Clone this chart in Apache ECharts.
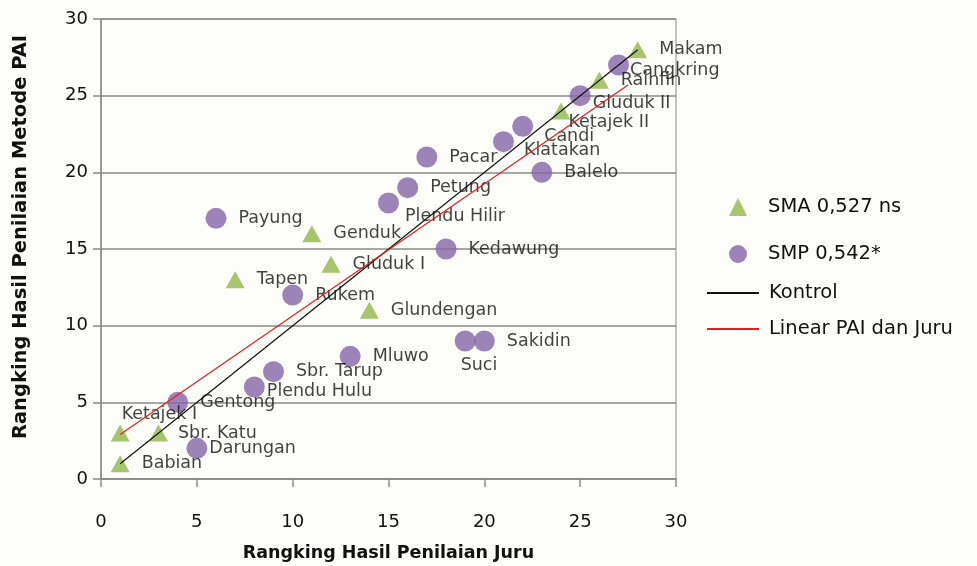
<!DOCTYPE html>
<html>
<head>
<meta charset="utf-8">
<script src="https://cdn.jsdelivr.net/npm/echarts@6/dist/echarts.min.js"></script>
<style>
  html, body { margin: 0; padding: 0; background: #fdfdf9; }
  #chart { width: 977px; height: 566px; }
</style>
</head>
<body>
<div id="chart"></div>
<script>
// SMA (triangles): [juru, PAI]
const smaNames = ['Makam', 'Rainfin', 'Ketajek II', 'Genduk', 'Gluduk I', 'Tapen', 'Glundengan', 'Ketajek I', 'Sbr. Katu', 'Babian'];
const smaJuru = [28, 26, 24, 11, 12, 7, 14, 1, 3, 1];
const smaPai = [28, 26, 24, 16, 14, 13, 11, 3, 3, 1];

// SMP (circles)
const smpNames = ['Cangkring', 'Gluduk II', 'Candi', 'Klatakan', 'Pacar', 'Balelo', 'Petung', 'Plendu Hilir', 'Payung', 'Kedawung',
  'Rukem', 'Mluwo', 'Suci', 'Sakidin', 'Sbr. Tarup', 'Plendu Hulu', 'Gentong', 'Darungan'];
const smpJuru = [27, 25, 22, 21, 17, 23, 16, 15, 6, 18, 10, 13, 19, 20, 9, 8, 4, 5];
const smpPai = [27, 25, 23, 22, 21, 20, 19, 18, 17, 15, 12, 8, 9, 9, 7, 6, 5, 2];

// lines
const kontrolX = [1, 28];
const kontrolY = [1, 28];
const linearX = [1, 27.5];
const linearY = [2.9, 25.7];

// label nudges (px) where Excel moved the label off the default spot
const nudge = {
  'Cangkring': [-11, 5], 'Gluduk II': [-10, 8], 'Ketajek II': [-14, 11], 'Candi': [-1, 10],
  'Klatakan': [-2, 9], 'Plendu Hilir': [-6, 13], 'Suci': [-27, 24], 'Plendu Hulu': [-10, 4],
  'Ketajek I': [-20, -19], 'Sbr. Katu': [-2, 0], 'Darungan': [-10, 0]
};

const font = 'DejaVu Sans';
const ink = '#111';

function points(names, xs, ys) {
  return names.map((n, i) => ({
    name: n,
    value: [xs[i], ys[i]],
    label: { offset: nudge[n] || [0, 0] }
  }));
}

const pointLabel = {
  show: true,
  position: 'right',
  distance: 12,
  formatter: p => p.name,
  fontFamily: font,
  fontSize: 17.5,
  color: ink
};

let chart = echarts.init(document.getElementById('chart'));
chart.setOption({
  backgroundColor: '#fdfdf9',
  animation: false,
  textStyle: { fontFamily: font },
  grid: {
    left: 101, right: 301, top: 19, bottom: 87,
    outerBoundsMode: 'none', containLabel: false,
    show: true, borderColor: '#8a8a8a', borderWidth: 1
  },
  xAxis: {
    type: 'value', min: 0, max: 30, interval: 5,
    name: 'Rangking Hasil Penilaian Juru',
    nameLocation: 'middle', nameGap: 65,
    nameTextStyle: { fontFamily: font, fontSize: 17.5, fontWeight: 'bold', color: ink },
    axisLine: { lineStyle: { color: '#8a8a8a', width: 1.5 } },
    axisTick: { show: true, length: 8, lineStyle: { color: '#8a8a8a', width: 1.5 } },
    axisLabel: { fontSize: 18, color: ink, margin: 34 },
    splitLine: { show: false }
  },
  yAxis: {
    type: 'value', min: 0, max: 30, interval: 5,
    name: 'Rangking Hasil Penilaian Metode PAI',
    nameLocation: 'middle', nameGap: 70,
    nameTextStyle: { fontFamily: font, fontSize: 19.5, fontWeight: 'bold', color: ink, padding: [0, 0, 0, 24] },
    axisLine: { show: true, lineStyle: { color: '#8a8a8a', width: 1.5 } },
    axisTick: { show: true, length: 8, lineStyle: { color: '#8a8a8a', width: 1.5 } },
    axisLabel: { fontSize: 18, color: ink, margin: 13 },
    splitLine: { show: true, lineStyle: { color: '#8a8a8a', width: 1.5 } }
  },
  legend: [
    {
      orient: 'vertical', left: 724, top: 192,
      itemWidth: 18, itemHeight: 18, itemGap: 27,
      textStyle: { fontSize: 19.5, color: ink, lineHeight: 18, padding: [0, 0, 0, 16] },
      data: ['SMA 0,527 ns', 'SMP 0,542*']
    },
    {
      orient: 'vertical', left: 702, top: 278,
      itemWidth: 52, itemHeight: 2, itemGap: 16,
      textStyle: { fontSize: 19.5, color: ink, lineHeight: 18, padding: [0, 0, 0, 5] },
      data: [{ name: 'Kontrol', icon: 'rect' }, { name: 'Linear PAI dan Juru', icon: 'rect' }]
    }
  ],
  series: [
    {
      name: 'Kontrol', type: 'line', symbol: 'none', z: 3,
      data: kontrolX.map((x, i) => [x, kontrolY[i]]),
      lineStyle: { color: '#111', width: 1.2 }, itemStyle: { color: '#111' }
    },
    {
      name: 'Linear PAI dan Juru', type: 'line', symbol: 'none', z: 3,
      data: linearX.map((x, i) => [x, linearY[i]]),
      lineStyle: { color: '#e0201c', width: 1.2 }, itemStyle: { color: '#e0201c' }
    },
    {
      name: 'SMA 0,527 ns', type: 'scatter', symbol: 'triangle', symbolSize: [19, 17], z: 2,
      itemStyle: { color: '#8fb84a' },
      label: pointLabel,
      data: points(smaNames, smaJuru, smaPai)
    },
    {
      name: 'SMP 0,542*', type: 'scatter', symbol: 'circle', symbolSize: 21, z: 2,
      itemStyle: { color: '#8565a8' },
      label: pointLabel,
      data: points(smpNames, smpJuru, smpPai)
    }
  ]
});
</script>
</body>
</html>
